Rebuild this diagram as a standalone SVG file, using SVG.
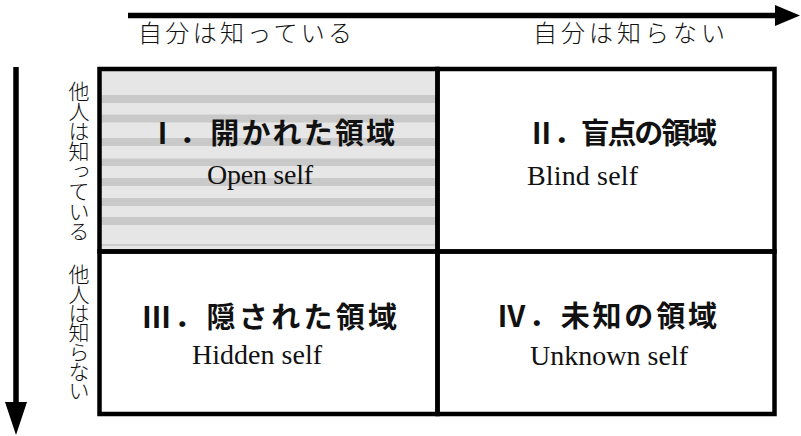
<svg xmlns="http://www.w3.org/2000/svg" width="801" height="436" viewBox="0 0 801 436">
<style>
.axis{font-family:"Noto Sans CJK JP","Noto Sans CJK SC",sans-serif;font-size:24px;font-weight:300;fill:#111}
.vert{font-family:"Noto Sans CJK JP","Noto Sans CJK SC",sans-serif;font-size:21px;font-weight:300;fill:#111;writing-mode:vertical-rl}
.title{font-family:"Liberation Serif","Noto Sans CJK JP",serif;font-size:29px;font-weight:bold;fill:#111}
.sub{font-family:"Liberation Serif","Times New Roman",serif;font-size:28px;fill:#111}
.cell{fill:none;stroke:#000;stroke-width:4.5}
.stripe{fill:#c9c9c9}
.arrow{stroke:#000;stroke-width:5.5;fill:none}
</style>
<defs>
<marker id="headH" markerUnits="userSpaceOnUse" markerWidth="26" markerHeight="22" refX="0" refY="10.5" orient="auto">
<path d="M0,0 L25,10.5 L0,21 Z" fill="#000"/>
</marker>
<marker id="headV" markerUnits="userSpaceOnUse" markerWidth="34" markerHeight="23" refX="0" refY="11" orient="auto">
<path d="M0,0 L33,11 L0,22 Z" fill="#000"/>
</marker>
</defs>

<g id="connectors">
<line class="arrow" x1="128" y1="15.5" x2="775" y2="15.5" marker-end="url(#headH)"/>
<line class="arrow" x1="16" y1="67" x2="16" y2="402" marker-end="url(#headV)"/>
</g>

<g id="axis-labels">
<text class="axis" x="138" y="42" textLength="214" lengthAdjust="spacing">自分は知っている</text>
<text class="axis" x="533" y="42" textLength="192" lengthAdjust="spacing">自分は知らない</text>
<text class="vert" x="79" y="81" letter-spacing="-1">他人は知っている</text>
<text class="vert" x="79" y="264" letter-spacing="-1.7">他人は知らない</text>
</g>

<g id="q1-open">
<rect x="99.5" y="69" width="338" height="182.5" fill="#e6e6e6"/>
<rect class="stripe" x="101" y="95" width="335" height="8"/>
<rect class="stripe" x="101" y="114.5" width="335" height="8"/>
<rect class="stripe" x="101" y="138" width="335" height="8"/>
<rect class="stripe" x="101" y="158.5" width="335" height="7.5"/>
<rect class="stripe" x="101" y="178" width="335" height="8"/>
<rect class="stripe" x="101" y="198" width="335" height="8"/>
<rect class="stripe" x="101" y="217" width="335" height="8"/>
<line x1="101" y1="245" x2="436" y2="245" stroke="#b4b4b4" stroke-width="1"/>
<rect class="cell" x="99.5" y="69" width="338" height="182.5"/>
<text class="title" x="148" y="144" textLength="247" lengthAdjust="spacing">Ⅰ．開かれた領域</text>
<text class="sub" x="207" y="184" textLength="106" lengthAdjust="spacing">Open self</text>
</g>

<g id="q2-blind">
<rect class="cell" x="437.5" y="69" width="337" height="182.5"/>
<text class="title" x="527" y="144" textLength="190" lengthAdjust="spacing">Ⅱ．盲点の領域</text>
<text class="sub" x="527" y="185" textLength="111" lengthAdjust="spacing">Blind self</text>
</g>

<g id="q3-hidden">
<rect class="cell" x="99.5" y="251.5" width="338" height="162.5"/>
<text class="title" x="142" y="328" textLength="255" lengthAdjust="spacing">Ⅲ．隠された領域</text>
<text class="sub" x="192" y="364" textLength="130" lengthAdjust="spacing">Hidden self</text>
</g>

<g id="q4-unknown">
<rect class="cell" x="437.5" y="251.5" width="337" height="162.5"/>
<text class="title" x="497" y="327" textLength="220" lengthAdjust="spacing">Ⅳ．未知の領域</text>
<text class="sub" x="530" y="365" textLength="158" lengthAdjust="spacing">Unknown self</text>
</g>
</svg>
